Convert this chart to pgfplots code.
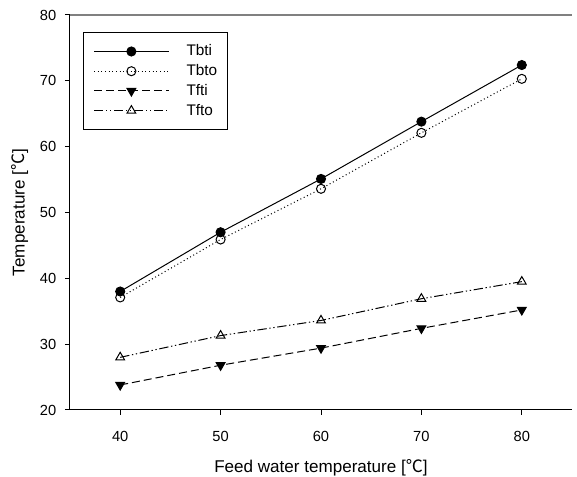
\documentclass[border=0pt]{standalone}
\usepackage{fontspec}
\setmainfont{Liberation Sans}
\newfontfamily\cjk{Noto Sans CJK KR}
\usepackage{pgfplots}
\pgfplotsset{compat=1.18}
\newcommand{\degc}{{\cjk ℃}}

\begin{document}
\begin{tikzpicture}
\begin{axis}[
    name=ax,
    scale only axis,
    width=376.5pt, height=296.25pt,
    xmin=35, xmax=85, ymin=20, ymax=80,
    xtick={40,50,60,70,80}, ytick={20,30,40,50,60,70,80},
    axis x line*=bottom, axis y line*=left,
    axis line style={-, line width=0.75pt},
    tick align=outside, major tick length=3.75pt,
    tick style={black, line width=0.75pt},
    /pgf/number format/assume math mode=true,
    tick label style={font=\fontsize{11}{13}\selectfont},
    xticklabel style={yshift=-8.5pt},
    yticklabel style={xshift=-3pt},
    label style={font=\fontsize{12.8}{15}\selectfont},
    xlabel={Feed water temperature [\degc]},
    xlabel style={at={(axis description cs:0.5,0)}, anchor=base, yshift=-47pt},
    ylabel={Temperature [\degc]},
    ylabel style={at={(axis description cs:-0.0996,0.5)}, anchor=center},
    legend cell align=left,
    legend style={at={(axis description cs:0.026,0.957)}, anchor=north west,
        draw=black, line width=0.75pt, font=\fontsize{11.5}{13}\selectfont,
        inner xsep=7.5pt, inner ysep=9pt, row sep=4.3pt, column sep=13pt,
        nodes={inner sep=0pt, text height=8.5pt, text depth=2pt}},
    legend image code/.code={
        \draw[mark repeat=2, mark phase=2] plot coordinates {(0pt,0pt) (28pt,0pt) (56pt,0pt)};
    },
    every axis plot/.append style={line width=0.75pt},
]
\draw[gray, line width=1.2pt] (rel axis cs:0,1) -- (rel axis cs:1,1);

\addplot[black, solid, mark=*, mark size=3.4pt, mark options={solid}] coordinates {
    (40,38.0) (50,47.0) (60,55.1) (70,63.8) (80,72.4)
};
\addlegendentry{Tbti}

\addplot[black, dotted, mark=o, mark size=3.4pt, mark options={solid, fill=white}] coordinates {
    (40,37.1) (50,45.9) (60,53.6) (70,62.1) (80,70.3)
};
\addlegendentry{Tbto}

\addplot[black, dash pattern=on 6pt off 3pt, mark=triangle*, mark size=3.8pt, mark options={solid, rotate=180}] coordinates {
    (40,23.8) (50,26.8) (60,29.4) (70,32.4) (80,35.2)
};
\addlegendentry{Tfti}

\addplot[black, dash pattern=on 7pt off 2pt on 1pt off 2pt on 1pt off 2pt, mark=triangle, mark size=3.8pt, mark options={solid, fill=white}] coordinates {
    (40,28.0) (50,31.3) (60,33.6) (70,36.9) (80,39.5)
};
\addlegendentry{Tfto}

\end{axis}
\pgfresetboundingbox
\useasboundingbox ([shift={(-52.5pt,-50.25pt)}]ax.south west) rectangle ([shift={(3.75pt,11.25pt)}]ax.north east);
\end{tikzpicture}
\end{document}
